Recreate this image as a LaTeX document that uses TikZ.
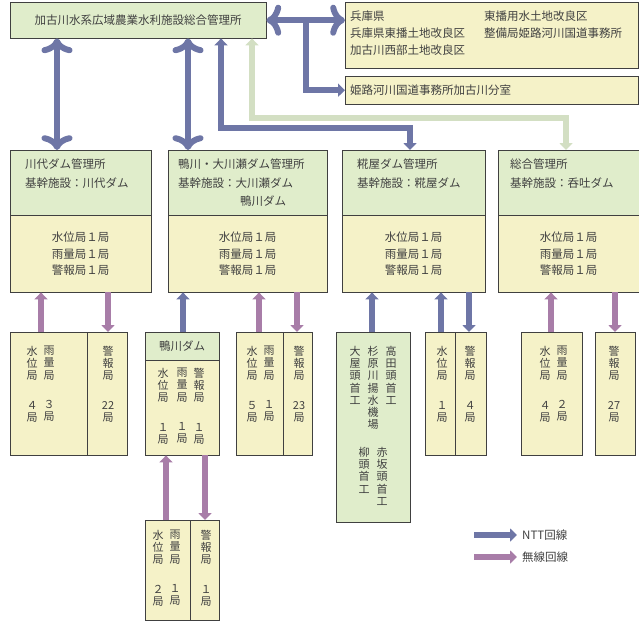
\documentclass[tikz,border=0pt]{standalone}
\usepackage{fontspec}
\setmainfont{Noto Sans CJK JP}
\usepackage{tikz}
\usetikzlibrary{arrows.meta,positioning,calc}

\definecolor{nttblue}{HTML}{6E76A6}
\definecolor{radiopurple}{HTML}{A87DA8}
\definecolor{palegreen}{HTML}{D3DFC3}
\definecolor{boxgreen}{HTML}{E0EDCB}
\definecolor{boxyellow}{HTML}{F5F2C8}
\definecolor{edge}{HTML}{404040}

\tikzset{
  gbox/.style={draw=edge, fill=boxgreen, anchor=north west, inner sep=0pt},
  ybox/.style={draw=edge, fill=boxyellow, anchor=north west, inner sep=0pt},
  txt/.style={anchor=west, inner sep=0pt, text=edge},
  vt/.style={anchor=north, inner sep=0pt, align=center, text=edge,
    font=\fontsize{11}{12.2}\selectfont},
  line/.style={line width=6pt, -{Triangle[width=13pt,length=7pt]}},
  ntt/.style={line, nttblue},
  radio/.style={line, radiopurple},
  pale/.style={line, palegreen},
}
% vertical column of text: name, x, top y, characters, count
\newcommand{\vstation}[5]{\node[vt] (#1) at (#2,#3) {#4\\[17pt]#5};}

\begin{document}
\begin{tikzpicture}[x=1pt,y=-1pt, font=\fontsize{11.5}{13}\selectfont]
    \useasboundingbox (0,0) rectangle (639,622);

    % Top row
    \node[gbox, minimum width=256pt, minimum height=36pt] (head) at (10,2) {};
    \node[text=edge] at (head.center) {加古川水系広域農業水利施設総合管理所};
    \node[ybox, minimum width=293pt, minimum height=66pt] (pref) at (345,2) {};
    \node[txt] at (350,16) {兵庫県};
    \node[txt] at (350,33) {兵庫県東播土地改良区};
    \node[txt] at (350,50) {加古川西部土地改良区};
    \node[txt] at (484,16) {東播用水土地改良区};
    \node[txt] at (484,33) {整備局姫路河川国道事務所};
    \node[ybox, minimum width=293pt, minimum height=28pt] (branch) at (345,76) {};
    \node[txt] at (350,90) {姫路河川国道事務所加古川分室};

    % Dam offices
    \node[gbox, minimum width=141pt, minimum height=65pt] (kawa) at (10,150) {};
    \node[ybox, minimum width=141pt, minimum height=77pt] (kawaS) at (10,215) {};
    \node[gbox, minimum width=159pt, minimum height=65pt] (kamo) at (168,150) {};
    \node[ybox, minimum width=159pt, minimum height=77pt] (kamoS) at (168,215) {};
    \node[gbox, minimum width=143pt, minimum height=65pt] (koji) at (342,150) {};
    \node[ybox, minimum width=143pt, minimum height=77pt] (kojiS) at (342,215) {};
    \node[gbox, minimum width=141pt, minimum height=65pt] (sogo) at (498,150) {};
    \node[ybox, minimum width=141pt, minimum height=77pt] (sogoS) at (498,215) {};

    \node[txt] at (25,164) {川代ダム管理所};
    \node[txt] at (25,183) {基幹施設：川代ダム};
    \node[txt] at (178,164) {鴨川・大川瀬ダム管理所};
    \node[txt] at (178,183) {基幹施設：大川瀬ダム};
    \node[txt] at (240,201) {鴨川ダム};
    \node[txt] at (357,164) {糀屋ダム管理所};
    \node[txt] at (357,183) {基幹施設：糀屋ダム};
    \node[txt] at (510,164) {総合管理所};
    \node[txt] at (510,183) {基幹施設：呑吐ダム};
    \foreach \b in {kawaS,kamoS,kojiS,sogoS} {
        \node[align=center, text=edge, font=\fontsize{11.5}{16.5}\selectfont]
            at (\b.center) {水位局１局\\雨量局１局\\警報局１局};
    }

    % Station boxes
    \node[ybox, minimum width=78pt, minimum height=123pt] (kawaA) at (10,332) {};
    \node[ybox, minimum width=40pt, minimum height=123pt] (kawaB) at (87,332) {};
    \node[ybox, minimum width=74pt, minimum height=123pt] (kamoA) at (145,332) {};
    \node[gbox, minimum width=74pt, minimum height=28pt] (kamoH) at (145,332) {};
    \node[text=edge] at (kamoH.center) {鴨川ダム};
    \node[ybox, minimum width=47pt, minimum height=123pt] (kamoB) at (236,332) {};
    \node[ybox, minimum width=29pt, minimum height=123pt] (kamoC) at (283,332) {};
    \node[gbox, minimum width=74pt, minimum height=190pt] (kojiA) at (336,332) {};
    \node[ybox, minimum width=30pt, minimum height=123pt] (kojiB) at (425,332) {};
    \node[ybox, minimum width=31pt, minimum height=123pt] (kojiC) at (455,332) {};
    \node[ybox, minimum width=61pt, minimum height=123pt] (sogoA) at (521,332) {};
    \node[ybox, minimum width=40pt, minimum height=123pt] (sogoB) at (595,332) {};
    \node[ybox, minimum width=45pt, minimum height=100pt] (lowA) at (145,520) {};
    \node[ybox, minimum width=29pt, minimum height=100pt] (lowB) at (190,520) {};

    \vstation{a1}{32}{346}{水\\位\\局}{４\\局}
    \vstation{a2}{49}{346}{雨\\量\\局}{３\\局}
    \vstation{a3}{108}{346}{警\\報\\局}{22\\局}
    \vstation{b1}{163}{368}{水\\位\\局}{１\\局}
    \vstation{b2}{182}{368}{雨\\量\\局}{１\\局}
    \vstation{b3}{199}{368}{警\\報\\局}{１\\局}
    \vstation{b4}{252}{346}{水\\位\\局}{５\\局}
    \vstation{b5}{269}{346}{雨\\量\\局}{１\\局}
    \vstation{b6}{299}{346}{警\\報\\局}{23\\局}
    \vstation{c4}{442}{346}{水\\位\\局}{１\\局}
    \vstation{c5}{470}{346}{警\\報\\局}{４\\局}
    \vstation{d1}{545}{346}{水\\位\\局}{４\\局}
    \vstation{d2}{562}{346}{雨\\量\\局}{２\\局}
    \vstation{d3}{614}{346}{警\\報\\局}{27\\局}
    \vstation{e1}{158}{530}{水\\位\\局}{２\\局}
    \vstation{e2}{175}{530}{雨\\量\\局}{１\\局}
    \vstation{e3}{206}{530}{警\\報\\局}{１\\局}
    \node[vt] (c1) at (355,346) {大\\屋\\頭\\首\\工};
    \node[vt] (c2) at (373,346) {杉\\原\\川\\揚\\水\\機\\場};
    \node[vt] (c3) at (391,346) {高\\田\\頭\\首\\工};
    \node[vt] (c6) at (364,447) {柳\\頭\\首\\工};
    \node[vt] (c7) at (382,447) {赤\\坂\\頭\\首\\工};

    % Links to the head office
    \draw[ntt,<->] (head.east) -- (head.east -| pref.west);
    \coordinate (split) at ($(head.east)!0.5!(head.east -| pref.west)$);
    \draw[ntt] (split) |- (branch.west);
    \draw[ntt,<->] (head.south -| 57,0) -- (kawa.north -| 57,0);
    \draw[ntt,<->] (head.south -| 188,0) -- (kamo.north -| 188,0);
    \draw[ntt,{Triangle[width=13pt,length=7pt]}-{Triangle[width=13pt,length=7pt]}]
        (head.south -| 221,0) |- (410,128) -- (koji.north -| 410,0);
    \draw[pale,{Triangle[width=13pt,length=7pt]}-{Triangle[width=13pt,length=7pt]}]
        (head.south -| 252,0) |- (566,118) -- (sogo.north -| 566,0);

    % Links to the stations
    \draw[radio] (kawaA.north -| 41,0) -- (kawaS.south -| 41,0);
    \draw[radio] (kawaS.south -| 108,0) -- (kawaB.north -| 108,0);
    \draw[ntt] (kamoA.north -| 183,0) -- (kamoS.south -| 183,0);
    \draw[radio] (kamoB.north -| 259,0) -- (kamoS.south -| 259,0);
    \draw[radio] (kamoS.south -| 297,0) -- (kamoC.north -| 297,0);
    \draw[ntt] (kojiA.north -| 372,0) -- (kojiS.south -| 372,0);
    \draw[ntt] (kojiB.north -| 441,0) -- (kojiS.south -| 441,0);
    \draw[ntt] (kojiS.south -| 469,0) -- (kojiC.north -| 469,0);
    \draw[radio] (sogoA.north -| 551,0) -- (sogoS.south -| 551,0);
    \draw[radio] (sogoS.south -| 615,0) -- (sogoB.north -| 615,0);
    \draw[radio] (lowA.north -| 166,0) -- (kamoA.south -| 166,0);
    \draw[radio] (kamoA.south -| 205,0) -- (lowB.north -| 205,0);

    % Legend
    \node[txt] (keyntt) at (522,535) {NTT回線};
    \node[txt] (keyradio) at (522,557) {無線回線};
    \draw[ntt] ([xshift=-48pt]keyntt.west) -- ([xshift=-5pt]keyntt.west);
    \draw[radio] ([xshift=-48pt]keyradio.west) -- ([xshift=-5pt]keyradio.west);
\end{tikzpicture}
\end{document}
